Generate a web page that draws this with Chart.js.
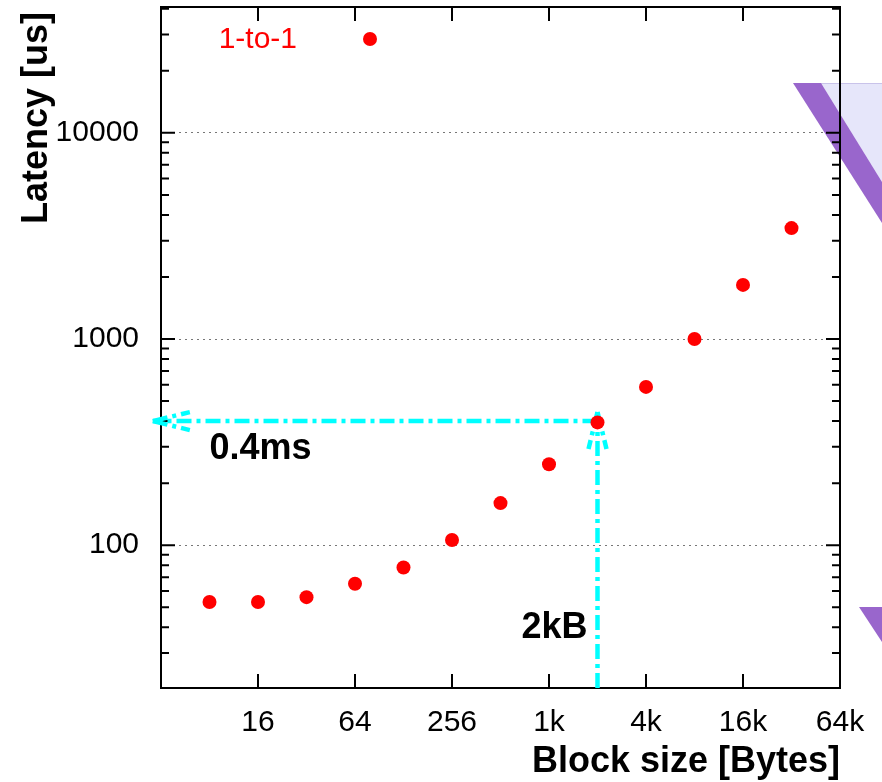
<!DOCTYPE html>
<html>
<head>
<meta charset="utf-8">
<script src="https://cdn.jsdelivr.net/npm/chart.js@4/dist/chart.umd.min.js"></script>
<style>
html, body { margin: 0; padding: 0; background: #fff; }
canvas { display: block; }
</style>
</head>
<body>
<canvas id="latencia" width="882" height="782"></canvas>
<script>
// Latencia 1-to-1 vs tamaño de bloque

const tamanos = [8, 16, 32, 64, 128, 256, 512, 1024, 2048, 4096, 8192, 16384, 32768];
const latencias = [53, 53, 56, 65, 78, 106, 160, 247, 394, 586, 1000, 1830, 3450];

const xTicks = [16, 64, 256, 1024, 4096, 16384, 65536];
const xEtiquetas = ['16', '64', '256', '1k', '4k', '16k', '64k'];
const yMayores = [100, 1000, 10000];
const yMenores = [30, 40, 50, 60, 70, 80, 90,
    200, 300, 400, 500, 600, 700, 800, 900,
    2000, 3000, 4000, 5000, 6000, 7000, 8000, 9000,
    20000, 30000, 40000];

// flechas de la anotación (0.4ms a 2kB)
const flechaH = [[2048, 400], [3.56, 400]];
const flechaV = [[2048, 20.3], [2048, 443]];

const FUENTE = '"Liberation Sans", Arial, sans-serif';
const CIAN = '#00ffff';

function flecha(c, x0, y0, x1, y1) {
    const ang = Math.atan2(y1 - y0, x1 - x0);
    const largo = 37, ancho = 9;
    c.beginPath();
    c.moveTo(x0, y0);
    c.lineTo(x1, y1);
    c.stroke();
    const bx = x1 - largo * Math.cos(ang), by = y1 - largo * Math.sin(ang);
    const nx = -Math.sin(ang) * ancho, ny = Math.cos(ang) * ancho;
    c.beginPath();
    c.moveTo(x1, y1); c.lineTo(bx + nx, by + ny);
    c.moveTo(x1, y1); c.lineTo(bx - nx, by - ny);
    c.stroke();
}

// sin relleno extra por etiquetas que sobresalen
function sinRelleno(s) {
    s.paddingTop = 0; s.paddingBottom = 0;
    s.paddingLeft = 0; s.paddingRight = 0;
}

const fondo = {
    id: 'fondo',
    beforeDraw(chart) {
        // restos del panel vecino (recortado)
        const c = chart.ctx;
        c.save();
        c.fillStyle = '#e6e6fa';
        c.beginPath(); c.moveTo(821, 83); c.lineTo(882, 83); c.lineTo(882, 182); c.closePath(); c.fill();
        c.strokeStyle = '#c9c3ea'; c.lineWidth = 1;
        c.beginPath(); c.moveTo(821, 83.5); c.lineTo(882, 83.5); c.stroke();
        c.fillStyle = '#9966cc';
        c.beginPath(); c.moveTo(793, 83); c.lineTo(821, 83); c.lineTo(882, 182); c.lineTo(882, 223); c.closePath(); c.fill();
        c.beginPath(); c.moveTo(859, 607); c.lineTo(882, 607); c.lineTo(882, 642); c.closePath(); c.fill();
        c.restore();
    }
};

const marco = {
    id: 'marco',
    beforeDatasetsDraw(chart) {
        const { ctx: c, chartArea: a, scales: { x, y } } = chart;
        c.save();
        c.strokeStyle = '#000';
        c.lineWidth = 2;
        c.strokeRect(a.left, a.top, a.right - a.left, a.bottom - a.top);
        c.beginPath();
        xTicks.forEach(v => {
            const px = x.getPixelForValue(v);
            c.moveTo(px, a.bottom); c.lineTo(px, a.bottom - 14);
            c.moveTo(px, a.top); c.lineTo(px, a.top + 14);
        });
        yMayores.map(v => [v, 14]).concat(yMenores.map(v => [v, 8])).forEach(([v, l]) => {
            const py = y.getPixelForValue(v);
            c.moveTo(a.left, py); c.lineTo(a.left + l, py);
            c.moveTo(a.right, py); c.lineTo(a.right - l, py);
        });
        c.stroke();

        // anotaciones cian
        c.strokeStyle = CIAN;
        c.lineWidth = 4.5;
        c.setLineDash([15, 5, 4, 5]);
        [flechaH, flechaV].forEach(([p0, p1]) => {
            flecha(c, x.getPixelForValue(p0[0]), y.getPixelForValue(p0[1]),
                x.getPixelForValue(p1[0]), y.getPixelForValue(p1[1]));
        });
        c.setLineDash([]);
        c.fillStyle = '#000';
        c.font = 'bold 36px ' + FUENTE;
        c.textBaseline = 'alphabetic';
        c.textAlign = 'left';
        c.fillText('0.4ms', x.getPixelForValue(8), y.getPixelForValue(flechaH[0][1]) + 38);
        c.textAlign = 'right';
        c.fillText('2kB', x.getPixelForValue(flechaV[0][0]) - 10, a.bottom - 50);
        c.restore();
    },
    afterDraw(chart) {
        const { ctx: c, chartArea: a } = chart;
        const ds = chart.data.datasets[0];
        c.save();
        // leyenda tipo gnuplot
        c.font = '30px ' + FUENTE;
        c.fillStyle = ds.pointBackgroundColor;
        c.textAlign = 'right';
        c.textBaseline = 'middle';
        c.fillText(ds.label, a.left + 136, a.top + 33);
        c.beginPath();
        c.arc(a.left + 209, a.top + 32, 7, 0, Math.PI * 2);
        c.fill();
        // título eje y
        c.fillStyle = '#000';
        c.font = 'bold 36px ' + FUENTE;
        c.translate(47, 118);
        c.rotate(-Math.PI / 2);
        c.textAlign = 'center';
        c.textBaseline = 'alphabetic';
        c.fillText('Latency [us]', 0, 0);
        c.restore();
    }
};

new Chart(document.getElementById('latencia'), {
    type: 'scatter',
    data: {
        datasets: [{
            label: '1-to-1',
            data: tamanos.map((t, i) => ({ x: t, y: latencias[i] })),
            pointBackgroundColor: '#ff0000',
            pointBorderWidth: 0,
            pointRadius: 7,
            showLine: false
        }]
    },
    options: {
        responsive: false,
        animation: false,
        layout: { padding: { top: 6, right: 42, left: 0, bottom: 0 } },
        plugins: { legend: { display: false }, tooltip: { enabled: false } },
        scales: {
            x: {
                type: 'logarithmic',
                min: 4,
                max: 65536,
                afterBuildTicks: s => { s.ticks = xTicks.map(v => ({ value: v })); },
                afterFit: s => { s.height = 94; sinRelleno(s); },
                ticks: {
                    autoSkip: false,
                    maxRotation: 0,
                    padding: 17,
                    color: '#000',
                    font: { family: FUENTE, size: 30 },
                    callback: (v, i) => xEtiquetas[i]
                },
                grid: { display: false, drawTicks: false },
                border: { display: false },
                title: {
                    display: true,
                    text: 'Block size [Bytes]',
                    align: 'end',
                    color: '#000',
                    font: { family: FUENTE, size: 36, weight: 'bold' },
                    padding: { top: 0, bottom: -2 }
                }
            },
            y: {
                type: 'logarithmic',
                min: 20.3,
                max: 40760,
                afterBuildTicks: s => {
                    s.ticks = yMayores.concat(yMenores).sort((p, q) => p - q).map(v => ({ value: v }));
                },
                afterFit: s => { s.width = 161; sinRelleno(s); },
                ticks: {
                    autoSkip: false,
                    padding: 22,
                    color: '#000',
                    font: { family: FUENTE, size: 30 },
                    callback: v => yMayores.includes(v) ? String(v) : ''
                },
                grid: {
                    drawTicks: false,
                    lineWidth: 1,
                    color: ctx => (ctx.tick && yMayores.includes(ctx.tick.value)) ? '#777' : 'rgba(0,0,0,0)'
                },
                border: { display: false, dash: [2, 4] }
            }
        }
    },
    plugins: [fondo, marco]
});
</script>
</body>
</html>
